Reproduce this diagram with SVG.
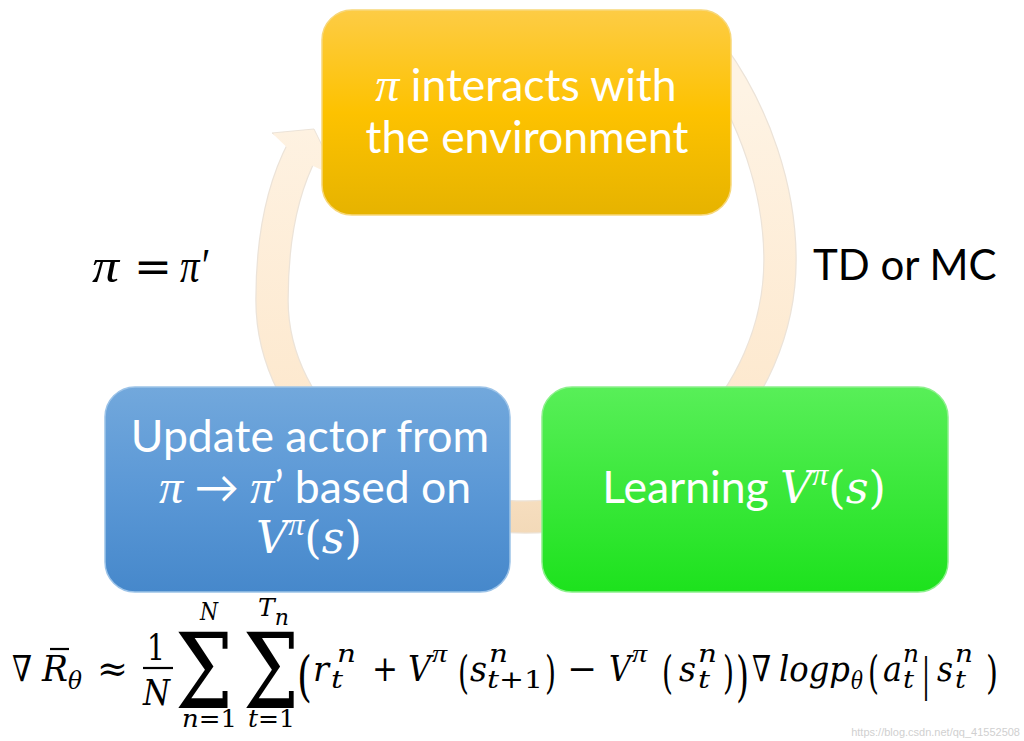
<svg xmlns="http://www.w3.org/2000/svg" width="1024" height="741" viewBox="0 0 1024 741">
<style>
.lbl{font-family:Lato,"Open Sans","Liberation Sans",sans-serif;font-size:44.5px;fill:#ffffff;text-anchor:middle}
.m{font-family:"DejaVu Serif","Liberation Serif",serif;font-style:italic}
.pi{font-family:"Liberation Serif","DejaVu Serif",serif;font-style:italic}
.up{font-family:"DejaVu Serif","Liberation Serif",serif;font-style:normal}
.blk{font-family:Lato,"Open Sans","Liberation Sans",sans-serif;font-size:42px;fill:#000000}
.f{font-family:"DejaVu Serif","Liberation Serif",serif;font-style:italic;font-size:36px;fill:#000}
.fp{font-family:"Liberation Serif","DejaVu Serif",serif;font-style:italic;font-size:30px;fill:#000}
.fs{font-family:"DejaVu Serif","Liberation Serif",serif;font-style:italic;font-size:25px;fill:#000}
.fu{font-family:"DejaVu Serif","Liberation Serif",serif;font-style:normal;font-size:36px;fill:#000}
.fus{font-family:"DejaVu Serif","Liberation Serif",serif;font-style:normal;font-size:25px;fill:#000}
.box{stroke-width:1.5}
</style>
<defs>
<linearGradient id="gY" x1="0" y1="0" x2="0" y2="1">
<stop offset="0" stop-color="#fdcc45"/><stop offset="0.5" stop-color="#fdc200"/><stop offset="1" stop-color="#e6b300"/>
</linearGradient>
<linearGradient id="gB" x1="0" y1="0" x2="0" y2="1">
<stop offset="0" stop-color="#72a8dc"/><stop offset="0.5" stop-color="#5b98d6"/><stop offset="1" stop-color="#4688cb"/>
</linearGradient>
<linearGradient id="gG" x1="0" y1="0" x2="0" y2="1">
<stop offset="0" stop-color="#58ef58"/><stop offset="0.5" stop-color="#3be83b"/><stop offset="1" stop-color="#1de21d"/>
</linearGradient>
<linearGradient id="gR" gradientUnits="userSpaceOnUse" x1="0" y1="90" x2="0" y2="535">
<stop offset="0" stop-color="#fef3e4"/><stop offset="0.75" stop-color="#fde8cd"/><stop offset="1" stop-color="#f3d9b8"/>
</linearGradient>
</defs>
<g id="connectors">
<path d="M 712,55 C 755,115 780,190 780,260 C 780,400 660,517 525,517 C 390,517 272,420 272,300 C 272,235 284,185 303,149" fill="none" stroke="#ece3d8" stroke-width="33.5"/>
<polygon points="272,133 314,129 338,178" fill="url(#gR)" stroke="#ece3d8" stroke-width="1"/>
<path d="M 712,55 C 755,115 780,190 780,260 C 780,400 660,517 525,517 C 390,517 272,420 272,300 C 272,235 284,185 303,149" fill="none" stroke="url(#gR)" stroke-width="31"/>
<polygon points="273,134 313,130 337,177 300,160" fill="url(#gR)"/>
</g>
<g id="node-interact">
<rect x="322" y="10" width="409" height="205" rx="30" fill="url(#gY)" stroke="#f7d77a" class="box"/>
<text class="lbl" x="526" y="101"><tspan class="pi" style="font-size:48px">π</tspan> interacts with</text>
<text class="lbl" x="527" y="153">the environment</text>
</g>
<g id="node-update">
<rect x="105" y="387" width="405" height="205" rx="30" fill="url(#gB)" stroke="#9cc3e8" class="box"/>
<text class="lbl" x="310" y="452">Update actor from</text>
<text class="lbl" x="315" y="503"><tspan class="pi" style="font-size:48px">π</tspan> → <tspan class="pi" style="font-size:48px">π</tspan>’ based on</text>
<text class="lbl" x="309" y="553"><tspan class="m">V</tspan><tspan class="pi" style="font-size:32px" dy="-18">π</tspan><tspan class="up" dy="18">(</tspan><tspan class="m">s</tspan><tspan class="up">)</tspan></text>
</g>
<g id="node-learn">
<rect x="542" y="387" width="406" height="205" rx="30" fill="url(#gG)" stroke="#8cf08c" class="box"/>
<text class="lbl" x="744" y="503">Learning <tspan class="m">V</tspan><tspan class="pi" style="font-size:32px" dy="-18">π</tspan><tspan class="up" dy="18">(</tspan><tspan class="m">s</tspan><tspan class="up">)</tspan></text>
</g>
<g id="labels">
<text class="pi" x="92" y="282" style="font-size:48px" textLength="27" lengthAdjust="spacingAndGlyphs">π</text>
<text class="up" x="134" y="282" style="font-size:44px" textLength="38" lengthAdjust="spacingAndGlyphs">=</text>
<text class="pi" x="180" y="282" style="font-size:48px" textLength="28" lengthAdjust="spacingAndGlyphs">π′</text>
<text class="blk" x="813" y="280">TD or MC</text>
</g>
<g id="formula">
<text class="f" x="12" y="681" textLength="20" lengthAdjust="spacingAndGlyphs">∇</text>
<text class="f" x="42" y="681" textLength="26" lengthAdjust="spacingAndGlyphs">R</text>
<line x1="50" y1="649" x2="69" y2="649" stroke="#000" stroke-width="2.2"/>
<text class="fs" x="68" y="689" textLength="14" lengthAdjust="spacingAndGlyphs">θ</text>
<text class="fu" x="97" y="681" textLength="31" lengthAdjust="spacingAndGlyphs">≈</text>
<text class="fu" x="147" y="660" textLength="18" lengthAdjust="spacingAndGlyphs">1</text>
<line x1="143" y1="668" x2="173" y2="668" stroke="#000" stroke-width="2.2"/>
<text class="f" x="143" y="705" textLength="27" lengthAdjust="spacingAndGlyphs">N</text>
<text class="fu" x="175" y="708" style="font-size:104px" textLength="58" lengthAdjust="spacingAndGlyphs">Σ</text>
<text class="fs" x="200" y="620" textLength="18" lengthAdjust="spacingAndGlyphs">N</text>
<text class="fs" x="182" y="727" textLength="55" lengthAdjust="spacingAndGlyphs">n<tspan class="fus">=1</tspan></text>
<text class="fu" x="243" y="708" style="font-size:104px" textLength="56" lengthAdjust="spacingAndGlyphs">Σ</text>
<text class="fs" x="258" y="616">T<tspan style="font-size:22px" dy="9">n</tspan></text>
<text class="fs" x="248" y="727" textLength="47" lengthAdjust="spacingAndGlyphs">t<tspan class="fus">=1</tspan></text>
<text class="fu" x="297" y="695" style="font-size:54px" textLength="15" lengthAdjust="spacingAndGlyphs">(</text>
<text class="f" x="313" y="681" textLength="16" lengthAdjust="spacingAndGlyphs">r</text>
<text class="fs" x="337" y="662" textLength="19" lengthAdjust="spacingAndGlyphs">n</text>
<text class="fs" x="331" y="688" textLength="12" lengthAdjust="spacingAndGlyphs">t</text>
<text class="fu" x="372" y="681" textLength="26" lengthAdjust="spacingAndGlyphs">+</text>
<text class="f" x="408" y="681" textLength="23" lengthAdjust="spacingAndGlyphs">V</text>
<text class="fp" x="432" y="662" style="font-size:26px" textLength="15" lengthAdjust="spacingAndGlyphs">π</text>
<text class="fu" x="458" y="688" style="font-size:44px" textLength="11" lengthAdjust="spacingAndGlyphs">(</text>
<text class="f" x="470" y="681" textLength="17" lengthAdjust="spacingAndGlyphs">s</text>
<text class="fs" x="489" y="662" textLength="19" lengthAdjust="spacingAndGlyphs">n</text>
<text class="fs" x="487" y="688" textLength="56" lengthAdjust="spacingAndGlyphs">t<tspan class="fus">+1</tspan></text>
<text class="fu" x="545" y="688" style="font-size:44px" textLength="11" lengthAdjust="spacingAndGlyphs">)</text>
<text class="fu" x="567" y="681" textLength="30" lengthAdjust="spacingAndGlyphs">−</text>
<text class="f" x="609" y="681" textLength="22" lengthAdjust="spacingAndGlyphs">V</text>
<text class="fp" x="632" y="662" style="font-size:26px" textLength="15" lengthAdjust="spacingAndGlyphs">π</text>
<text class="fu" x="662" y="688" style="font-size:44px" textLength="11" lengthAdjust="spacingAndGlyphs">(</text>
<text class="f" x="679" y="681" textLength="17" lengthAdjust="spacingAndGlyphs">s</text>
<text class="fs" x="698" y="662" textLength="19" lengthAdjust="spacingAndGlyphs">n</text>
<text class="fs" x="698" y="688" textLength="12" lengthAdjust="spacingAndGlyphs">t</text>
<text class="fu" x="723" y="688" style="font-size:44px" textLength="11" lengthAdjust="spacingAndGlyphs">)</text>
<text class="fu" x="736" y="695" style="font-size:54px" textLength="13" lengthAdjust="spacingAndGlyphs">)</text>
<text class="f" x="752" y="681" textLength="19" lengthAdjust="spacingAndGlyphs">∇</text>
<text class="f" x="779" y="681" textLength="71" lengthAdjust="spacingAndGlyphs">logp</text>
<text class="fs" x="851" y="689" textLength="12" lengthAdjust="spacingAndGlyphs">θ</text>
<text class="fu" x="868" y="688" style="font-size:44px" textLength="11" lengthAdjust="spacingAndGlyphs">(</text>
<text class="f" x="883" y="681" textLength="19" lengthAdjust="spacingAndGlyphs">a</text>
<text class="fs" x="903" y="662" textLength="16" lengthAdjust="spacingAndGlyphs">n</text>
<text class="fs" x="903" y="688" textLength="11" lengthAdjust="spacingAndGlyphs">t</text>
<text class="fu" x="922" y="690" style="font-size:44px" textLength="8" lengthAdjust="spacingAndGlyphs">|</text>
<text class="f" x="937" y="681" textLength="16" lengthAdjust="spacingAndGlyphs">s</text>
<text class="fs" x="955" y="662" textLength="18" lengthAdjust="spacingAndGlyphs">n</text>
<text class="fs" x="955" y="688" textLength="11" lengthAdjust="spacingAndGlyphs">t</text>
<text class="fu" x="986" y="688" style="font-size:44px" textLength="12" lengthAdjust="spacingAndGlyphs">)</text>
</g>
<text x="1020" y="736" font-family="Liberation Sans,sans-serif" font-size="11" fill="#d0d0d0" text-anchor="end">https://blog.csdn.net/qq_41552508</text>
</svg>
